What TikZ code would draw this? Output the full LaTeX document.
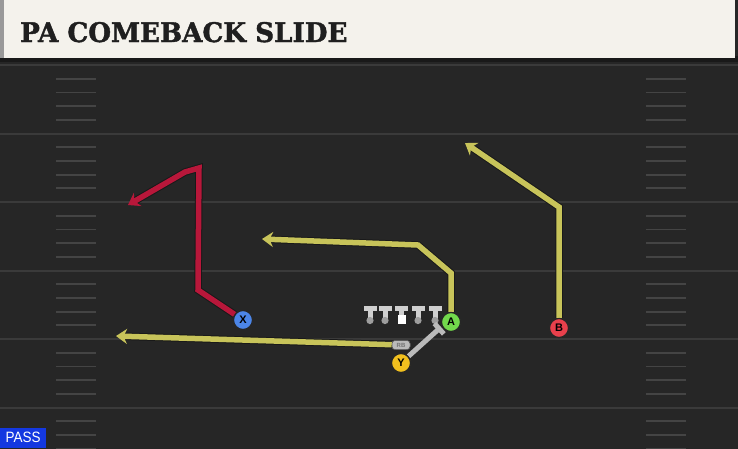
\documentclass[tikz,border=0pt]{standalone}
\usepackage{fontspec}
\setmainfont{Liberation Sans}
\newfontfamily\titlefont{DejaVu Serif}[BoldFeatures={FakeBold=1.5}]
\usetikzlibrary{arrows.meta}
\definecolor{bg}{HTML}{262626}
\definecolor{hdr}{HTML}{F4F2EC}
\definecolor{majl}{HTML}{3A3A3A}
\definecolor{hashc}{HTML}{444444}
\definecolor{ryel}{HTML}{C8C45A}
\definecolor{rred}{HTML}{B8173A}
\definecolor{pblue}{HTML}{4C86E8}
\definecolor{pgreen}{HTML}{72D94C}
\definecolor{pred}{HTML}{E8404C}
\definecolor{pyel}{HTML}{F2C01E}
\definecolor{olgray}{HTML}{CFCFCF}
\definecolor{passblue}{HTML}{1438E0}
\begin{document}
\begin{tikzpicture}[x=1pt,y=-1pt,
  majorline/.style={draw=majl,line width=2pt},
  hashline/.style={draw=hashc,line width=1.8pt},
  route/.style={draw=#1,line width=5.5pt,-{Stealth[length=11pt,width=15pt,inset=3.5pt]},
    preaction={draw=black!90,line width=7.5pt,arrows=-,shorten >=7pt}},
  block/.style={draw=olgray!90!black,line width=5pt,-{Bar[width=14pt]}},
  player/.style={circle,draw=black!85,line width=1.2pt,minimum size=19pt,inner sep=0pt,
    font=\bfseries\fontsize{11}{11}\selectfont},
  rblabel/.style={rounded corners=3pt,fill=olgray!90!black,draw=black!70,line width=0.5pt,
    minimum width=18pt,minimum height=9pt,inner sep=0pt,font=\bfseries\fontsize{6}{6}\selectfont,text=black!55}
]
\useasboundingbox (0,0) rectangle (738,448);
\fill[bg] (-5,-5) rectangle (743,453);
% field lines
\foreach \k in {0,...,5}{
  \draw[majorline] (0,65+68.5*\k) -- (738,65+68.5*\k);
  \foreach \j in {1,...,4}{
    \draw[hashline] (56,65+68.5*\k+13.7*\j) -- (96,65+68.5*\k+13.7*\j);
    \draw[hashline] (646,65+68.5*\k+13.7*\j) -- (686,65+68.5*\k+13.7*\j);
  }
}
% header
\fill[black!90] (-5,56) rectangle (743,62);
\fill[hdr] (-5,-5) rectangle (735,58);
\fill[black!40] (-5,-5) rectangle (4,58);
\node[anchor=base west,inner sep=0pt,font=\titlefont\bfseries\fontsize{27}{27}\selectfont,text=black!88] (title) at (20,42) {\scalebox{0.97}[1]{PA COMEBACK SLIDE}};
% linemen
\foreach \x in {370,385,418,435}{
  \fill[olgray] (\x-6.5,305.5) rectangle (\x+6.5,311);
  \fill[olgray] (\x-2.5,311) rectangle (\x+2.5,320);
  \fill[black!38] (\x,320.5) circle (3.6pt);
}
\fill[olgray] (401.5-6.5,305.5) rectangle (401.5+6.5,311);
\fill[olgray] (401.5-2.5,311) rectangle (401.5+2.5,316);
\fill[white] (397.5,315) rectangle (405.5,324);
% players
\node[player,fill=pblue] (X) at (243,320) {X};
\node[player,fill=pgreen] (A) at (451,322) {A};
\node[player,fill=pred] (B) at (559,328) {B};
\node[player,fill=pyel] (Y) at (401,363) {Y};
\node[rblabel] (RB) at (401,345) {RB};
\coordinate (Xend) at (128,205);
\coordinate (Aend) at (262,239);
\coordinate (Bend) at (465,143);
\coordinate (RBend) at (116,336);
\coordinate (Yend) at (441,327);
% routes
\draw[route=rred] (X) -- (198,290) -- (199,168) -- (185,172) -- (Xend);
\draw[route=ryel] (A) -- (451,273) -- (418,245) -- (Aend);
\draw[route=ryel] (B) -- (559,207) -- (Bend);
\draw[route=ryel] (RB) -- (RBend);
\draw[block] (Y) -- (Yend);
% players on top of routes
\node[player,fill=pblue] at (X) {X};
\node[player,fill=pgreen] at (A) {A};
\node[player,fill=pred] at (B) {B};
\node[player,fill=pyel] at (Y) {Y};
\node[rblabel] at (RB) {RB};
% pass label
\node[fill=passblue,text=white,anchor=south west,minimum width=46pt,minimum height=20pt,inner sep=0pt,font=\fontsize{15}{15}\selectfont] (pass) at (0,448) {\scalebox{0.9}[1]{PASS}};
\end{tikzpicture}
\end{document}
